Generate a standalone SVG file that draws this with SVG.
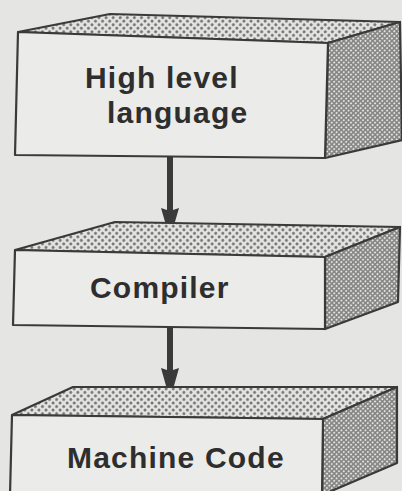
<svg xmlns="http://www.w3.org/2000/svg" width="402" height="491" viewBox="0 0 402 491">
  <defs>
    <!-- light dotted screen for the top faces -->
    <pattern id="dotsLight" width="5" height="5" patternUnits="userSpaceOnUse" patternTransform="rotate(45)">
      <rect width="5" height="5" fill="#e4e4e2"/>
      <circle cx="2.5" cy="2.5" r="1.4" fill="#6c6c6a"/>
    </pattern>
    <!-- denser, darker screen for the side faces -->
    <pattern id="dotsDark" width="3.4" height="3.4" patternUnits="userSpaceOnUse" patternTransform="rotate(45)">
      <rect width="3.4" height="3.4" fill="#858583"/>
      <circle cx="1.7" cy="1.7" r="1.0" fill="#e4e4e2"/>
    </pattern>
  </defs>
  <style>
    .front { fill: #ebebe9; stroke: #3a3a3a; stroke-width: 2.2; stroke-linejoin: round; }
    .top { fill: url(#dotsLight); stroke: #3a3a3a; stroke-width: 2.2; stroke-linejoin: round; }
    .side { fill: url(#dotsDark); stroke: #3a3a3a; stroke-width: 2.2; stroke-linejoin: round; }
    .label { font-family: "Liberation Sans", Arial, sans-serif; font-weight: bold; font-size: 30px; letter-spacing: 1.2px; fill: #2e2e2e; }
    .link { stroke: #3a3a3a; stroke-width: 6; fill: none; }
    .head { fill: #3a3a3a; }
  </style>

  <rect width="402" height="491" fill="#e5e5e3"/>

  <!-- connectors -->
  <g id="connectors">
    <line class="link" x1="170" y1="157" x2="170" y2="212"/>
    <path class="head" d="M161,208 L170,211 L179,208 L170,239 Z"/>
    <line class="link" x1="170" y1="328" x2="170" y2="372"/>
    <path class="head" d="M161,368 L170,371 L179,368 L170,400 Z"/>
  </g>

  <!-- box 1 -->
  <g id="high-level-language">
    <polygon class="top" points="18,32 110,14 400,22 328,43"/>
    <polygon class="side" points="328,43 400,22 402,140 325,158"/>
    <polygon class="front" points="18,32 328,43 325,158 15,155"/>
    <text class="label" x="85" y="88">High level</text>
    <text class="label" x="107" y="123">language</text>
  </g>

  <!-- box 2 -->
  <g id="compiler">
    <polygon class="top" points="15,250 115,222 400,227 325,257"/>
    <polygon class="side" points="325,257 400,227 398,302 325,329"/>
    <polygon class="front" points="15,250 325,257 325,329 13,325"/>
    <text class="label" x="90" y="298">Compiler</text>
  </g>

  <!-- box 3 -->
  <g id="machine-code">
    <polygon class="top" points="12,415 73,387 397,387 323,419"/>
    <polygon class="side" points="323,419 397,387 397,463 322,495"/>
    <polygon class="front" points="12,415 323,419 322,495 10,495"/>
    <text class="label" x="67" y="468">Machine Code</text>
  </g>
</svg>
